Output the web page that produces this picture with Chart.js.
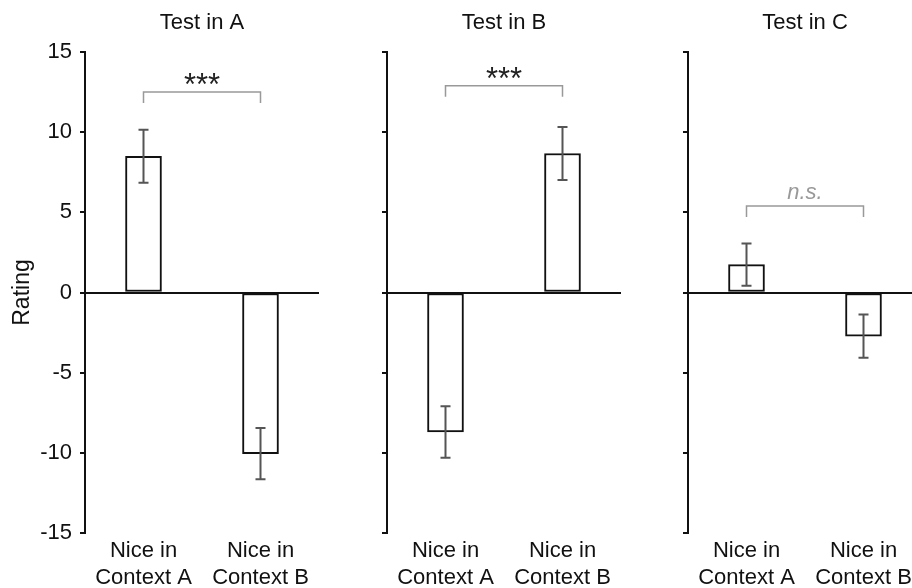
<!DOCTYPE html>
<html>
<head>
<meta charset="utf-8">
<script src="https://cdn.jsdelivr.net/npm/chart.js@4/dist/chart.umd.min.js"></script>
<style>
  html, body { margin: 0; padding: 0; background: #fff; overflow: hidden; }
  body { width: 912px; height: 588px; position: relative; }
  .panel { position: absolute; top: 0; width: 330px; height: 588px; }
</style>
</head>
<body>
<div class="panel" style="left:0px"><canvas id="chartA" width="330" height="588"></canvas></div>
<div class="panel" style="left:302px"><canvas id="chartB" width="330" height="588"></canvas></div>
<div class="panel" style="left:603px"><canvas id="chartC" width="330" height="588"></canvas></div>
<script>
const categories = [['Nice in', 'Context A'], ['Nice in', 'Context B']]
const panelTitles = ['Test in A', 'Test in B', 'Test in C']

const ratingsA = [8.5, -10.05]
const errorsA = [1.65, 1.6]
const ratingsB = [-8.7, 8.67]
const errorsB = [1.6, 1.65]
const ratingsC = [1.74, -2.72]
const errorsC = [1.32, 1.35]

const bracketLevels = [12.5, 12.9, 5.4]
const sigLabels = ['***', '***', 'n.s.']

const yTicks = { min: -15, max: 15, step: 5 }

Chart.defaults.font.family = '"Liberation Sans", Arial, sans-serif'

// error bars + significance bracket
const extras = {
    id: 'extras',
    afterDatasetsDraw(chart, args, opts) {
        const ctx = chart.ctx
        const y = chart.scales.y
        const meta = chart.getDatasetMeta(0)
        const values = chart.data.datasets[0].data
        ctx.save()
        ctx.strokeStyle = '#555'
        ctx.lineWidth = 2
        opts.errors.forEach((e, i) => {
            const x = meta.data[i].x
            const top = y.getPixelForValue(values[i] + e)
            const bot = y.getPixelForValue(values[i] - e)
            ctx.beginPath()
            ctx.moveTo(x, top); ctx.lineTo(x, bot)
            ctx.moveTo(x - 5, top); ctx.lineTo(x + 5, top)
            ctx.moveTo(x - 5, bot); ctx.lineTo(x + 5, bot)
            ctx.stroke()
        })

        const x1 = meta.data[0].x
        const x2 = meta.data[1].x
        const by = y.getPixelForValue(opts.bracket)
        ctx.strokeStyle = '#999'
        ctx.lineWidth = 1.5
        ctx.beginPath()
        ctx.moveTo(x1, by + 11); ctx.lineTo(x1, by); ctx.lineTo(x2, by); ctx.lineTo(x2, by + 11)
        ctx.stroke()

        const stars = opts.label === '***'
        ctx.font = stars ? '31px "Liberation Sans", Arial, sans-serif' : 'italic 22px "Liberation Sans", Arial, sans-serif'
        ctx.fillStyle = stars ? '#222' : '#999'
        ctx.textAlign = 'center'
        ctx.textBaseline = 'alphabetic'
        const m = ctx.measureText(opts.label)
        const mid = (m.actualBoundingBoxAscent - m.actualBoundingBoxDescent) / 2
        ctx.fillText(opts.label, (x1 + x2) / 2, by - 13 + mid)
        ctx.restore()
    }
}

const makePanel = (id, title, values, errors, bracket, label, first) => {
    new Chart(document.getElementById(id), {
        type: 'bar',
        data: {
            labels: categories,
            datasets: [{
                data: values,
                backgroundColor: '#fff',
                borderColor: '#111',
                borderWidth: 2,
                borderSkipped: false,
                barThickness: 36
            }]
        },
        options: {
            responsive: false,
            animation: false,
            layout: { padding: { left: 0, right: 11, top: 0, bottom: 0 } },
            plugins: {
                legend: { display: false },
                tooltip: { enabled: false },
                title: {
                    display: true, text: title, fullSize: false, color: '#111',
                    font: { size: 22, weight: 'normal', lineHeight: 1.2 }, padding: { top: 10, bottom: 15.6 }
                },
                extras: { errors, bracket, label }
            },
            scales: {
                x: {
                    grid: { display: false, drawTicks: false },
                    border: { display: false },
                    ticks: { color: '#111', font: { size: 22, lineHeight: 1.22 }, padding: 5, maxRotation: 0, autoSkip: false },
                    afterFit: (s) => { s.height = 55 }
                },
                y: {
                    min: yTicks.min, max: yTicks.max,
                    ticks: {
                        stepSize: yTicks.step, color: '#111', font: { size: 22 }, padding: 8,
                        callback: (v) => first ? v : ''
                    },
                    grid: {
                        drawOnChartArea: true,
                        color: (c) => c.tick && c.tick.value === 0 ? '#111' : 'rgba(0,0,0,0)',
                        tickColor: '#111', tickLength: 5, lineWidth: 2
                    },
                    border: { color: '#111', width: 2 },
                    title: {
                        display: first, text: 'Rating', color: '#111',
                        font: { size: 23 }, padding: { top: 9, bottom: 0 }
                    },
                    afterFit: (s) => { s.width = 85 }
                }
            }
        },
        plugins: [extras]
    })
}

makePanel('chartA', panelTitles[0], ratingsA, errorsA, bracketLevels[0], sigLabels[0], true)
makePanel('chartB', panelTitles[1], ratingsB, errorsB, bracketLevels[1], sigLabels[1], false)
makePanel('chartC', panelTitles[2], ratingsC, errorsC, bracketLevels[2], sigLabels[2], false)
</script>
</body>
</html>
